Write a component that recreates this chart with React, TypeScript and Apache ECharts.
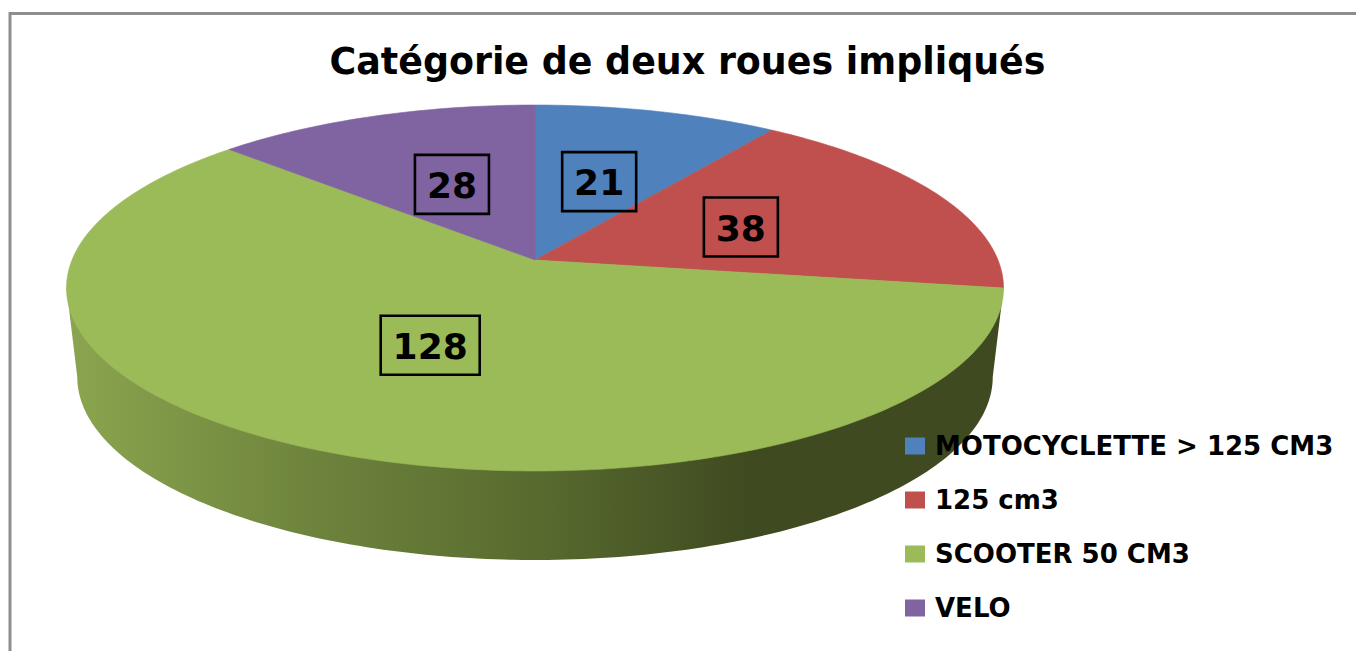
import React, { useEffect, useRef } from "react";
import * as echarts from "echarts";

const categories = ["MOTOCYCLETTE > 125 CM3", "125 cm3", "SCOOTER 50 CM3", "VELO"];
const values = [21, 38, 128, 28];
const colors = ["#4f81bd", "#c0504d", "#9bbb59", "#8064a2"];
const labelNudgeX = [-1, -1, 4, 3];
const labelNudgeY = [1, 1, -1, 1];
const titleText = "Catégorie de deux roues impliqués";

// Perspective projection of the unit disc on the page
const CX = 535;
const APEX_Y = 260;
const PERSP = 0.153;
const SLOPE_Y = -138.9;
const RX = 463;
const DEPTH = 89;
const BOTTOM_RX_RATIO = 0.977;

const project = (r: number, theta: number, ratio = 1, dy = 0) => {
  const X = r * Math.sin(theta);
  const Y = r * Math.cos(theta);
  const w = 1 + PERSP * Y;
  return [CX + (RX * ratio * X) / w, (SLOPE_Y * Y + APEX_Y) / w + dy];
};

const total = values.reduce((a, b) => a + b, 0);
const angleOf = (v: number) => (v / total) * Math.PI * 2;
const startAngles = values.map((_, i) =>
  values.slice(0, i).reduce((a, b) => a + angleOf(b), 0)
);

const arcPoints = (from: number, to: number, ratio = 1, dy = 0) => {
  const n = Math.max(8, Math.ceil(Math.abs(to - from) * 60));
  const pts: number[][] = [];
  for (let i = 0; i <= n; i++) pts.push(project(1, from + ((to - from) * i) / n, ratio, dy));
  return pts;
};

const sliceSeries = (i: number) => ({
  type: "custom",
  name: categories[i],
  coordinateSystem: "none",
  itemStyle: { color: colors[i] },
  data: [{ name: categories[i], value: values[i] }],
  z: 3,
  renderItem: (_p: any, api: any) => {
    const a0 = startAngles[i];
    const a1 = a0 + angleOf(api.value(0));
    const pts = [project(0, 0), ...arcPoints(a0, a1)];
    return {
      type: "polygon",
      shape: { points: pts },
      style: { fill: colors[i], stroke: colors[i], lineWidth: 0.6 },
    };
  },
});

const labelSeries = (i: number) => ({
  type: "custom",
  name: "label" + i,
  coordinateSystem: "none",
  data: [values[i]],
  z: 5,
  renderItem: (_p: any, api: any) => {
    const v = api.value(0);
    const mid = startAngles[i] + angleOf(v) / 2;
    const c = project(0.5, mid);
    const cx = c[0] + labelNudgeX[i];
    const cy = c[1] + labelNudgeY[i];
    const text = String(v);
    const w = 25 * text.length + 24;
    const h = 59;
    return {
      type: "group",
      children: [
        {
          type: "rect",
          shape: { x: cx - w / 2, y: cy - h / 2, width: w, height: h },
          style: { fill: "none", stroke: "#000", lineWidth: 2.6 },
        },
        {
          type: "text",
          style: {
            x: cx,
            y: cy + 1,
            text,
            fill: "#000",
            font: 'bold 36px "DejaVu Sans"',
            align: "center",
            verticalAlign: "middle",
          },
        },
      ],
    };
  },
});

const wallSeries = {
  type: "custom",
  name: "wall",
  coordinateSystem: "none",
  data: [0],
  z: 1,
  renderItem: () => {
    const ext = Math.acos(-PERSP);
    const back = Math.PI * 2 - ext;
    const pts = [
      project(1, ext),
      ...arcPoints(ext, back, BOTTOM_RX_RATIO, DEPTH),
      project(1, back),
    ];
    return {
      type: "polygon",
      shape: { points: pts },
      style: {
        fill: new echarts.graphic.LinearGradient(0, 0, 1, 0, [
          { offset: 0, color: "#8ba54f" },
          { offset: 0.25, color: "#6f853d" },
          { offset: 0.5, color: "#586b2f" },
          { offset: 0.73, color: "#3f4a20" },
          { offset: 1, color: "#3f4a20" },
        ]),
      },
    };
  },
};

export default function App() {
  const ref = useRef<HTMLDivElement>(null);
  useEffect(() => {
    const chart = echarts.init(ref.current!, undefined, { renderer: "svg" });
    chart.setOption({
      animation: false,
      backgroundColor: "#fff",
      title: {
        text: titleText,
        left: 682.5,
        top: 38,
        textAlign: "center",
        textStyle: { fontFamily: "DejaVu Sans", fontWeight: "bold", fontSize: 36.4, color: "#000" },
      },
      legend: {
        orient: "vertical",
        left: 900,
        top: 428,
        icon: "rect",
        itemWidth: 20,
        itemHeight: 17,
        itemGap: 28,
        data: categories,
        selectedMode: false,
        textStyle: {
          fontFamily: "DejaVu Sans",
          fontWeight: "bold",
          fontSize: 26,
          lineHeight: 20,
          color: "#000",
          padding: [0, 0, 0, 5],
        },
      },
      graphic: [
        {
          type: "polyline",
          shape: { points: [[10, 651], [10, 13.5], [1356, 13.5]] },
          style: { fill: "none", stroke: "#8e8e8e", lineWidth: 3 },
        },
      ],
      series: [wallSeries, ...values.map((_, i) => sliceSeries(i)), ...values.map((_, i) => labelSeries(i))],
    });
    return () => chart.dispose();
  }, []);
  return (
    <div
      ref={ref}
      style={{ position: "absolute", left: 0, top: 0, width: 1356, height: 651 }}
    />
  );
}
